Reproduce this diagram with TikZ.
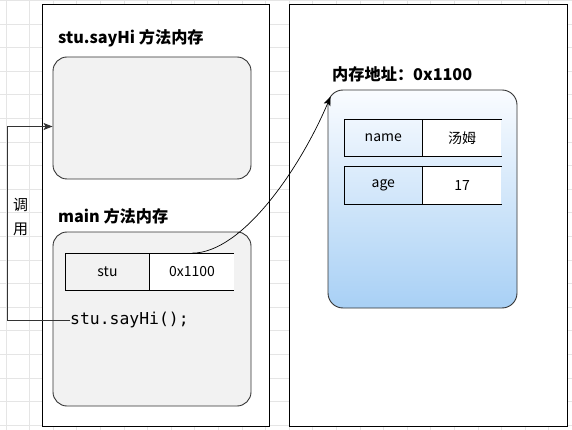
\documentclass[tikz,border=0pt]{standalone}
\usepackage{fontspec}
\setmainfont{Noto Sans CJK SC}
\setmonofont{DejaVu Sans Mono}
\usepackage{tikz}
\usetikzlibrary{arrows.meta, positioning, calc, shapes.geometric}
\definecolor{gridgray}{RGB}{229,229,229}
\definecolor{boxgray}{RGB}{242,242,242}
\definecolor{edgegray}{RGB}{51,51,51}
\definecolor{heaptop}{RGB}{250,252,255}
\definecolor{heapblue}{RGB}{168,208,245}

\begin{document}
\begin{tikzpicture}[
    x=1pt, y=-1pt,
    gridline/.style={gridgray, line width=0.8pt},
    panel/.style={draw=black, fill=white, line width=1pt, inner sep=0pt},
    framebox/.style={draw=edgegray, line width=0.9pt, rounded corners=14pt, inner sep=0pt},
    cell/.style={draw=black, line width=0.9pt, inner sep=0pt, font=\fontsize{14}{17}\selectfont},
    opencell/.style={fill=white, inner sep=0pt, font=\fontsize{14}{17}\selectfont,
        append after command={(\tikzlastnode.north west) edge[line width=0.9pt] (\tikzlastnode.north east)
            (\tikzlastnode.south west) edge[line width=0.9pt] (\tikzlastnode.south east)}},
    memtitle/.style={anchor=west, inner sep=0pt, font=\fontsize{16.2}{19}\selectfont\bfseries},
    callline/.style={draw=edgegray, line width=0.9pt, -{Stealth[length=9pt, width=7pt, inset=2pt]}},
    refline/.style={draw=black, line width=0.7pt, -{Stealth[length=9pt, width=7pt, inset=2pt]}}
]
    \useasboundingbox (0,0) rectangle (572,430);
    \foreach \k in {0,...,24} {
        \draw[gridline] ({6+23.6*\k},0) -- ({6+23.6*\k},430);
    }
    \foreach \k in {0,...,18} {
        \draw[gridline] (0,{0.4+23.6*\k}) -- (572,{0.4+23.6*\k});
    }

    % stack frames
    \node[panel, minimum width=227, minimum height=421] (stackpanel) at (155.5,215.5) {};
    \node[panel, minimum width=278, minimum height=421] (heappanel) at (428,215.5) {};

    \node[memtitle] (hititle) at (58,38) {stu.sayHi 方法内存};
    \node[framebox, fill=boxgray, minimum width=198, minimum height=122] (hibox) at (152,118) {};

    \node[memtitle] (maintitle) at (58,216) {main 方法内存};
    \node[framebox, fill=boxgray, minimum width=198, minimum height=174] (mainbox) at (152,319) {};
    \node[cell, fill=boxgray, minimum width=83.6, minimum height=36.7] (stuvar) at (107.5,271.7) {stu};
    \node[opencell, minimum width=84, minimum height=36.7, right=0pt of stuvar] (addr) {0x1100};
    \node[anchor=west, inner sep=0pt, font=\fontsize{16.4}{18}\ttfamily] (callsite) at (70,320) {stu.sayHi();};

    % heap object
    \node[memtitle] (heaptitle) at (332,74) {内存地址：0x1100};
    \node[framebox, rounded corners=15pt, top color=heaptop, bottom color=heapblue,
        minimum width=189, minimum height=218] (heapbox) at (422.5,199) {};
    \node[cell, minimum width=78, minimum height=37] (namekey) at (383.3,137.8) {name};
    \node[opencell, minimum width=78.4, minimum height=37, right=0pt of namekey] (nameval) {汤姆};
    \node[cell, minimum width=78, minimum height=37.7] (agekey) at (383.3,185.2) {age};
    \node[opencell, minimum width=78.4, minimum height=37.7, right=0pt of agekey] (ageval) {17};

    % connectors
    \coordinate (callturn) at (7.5,126.5);
    \draw[callline] (callsite.west) -| (callturn) -- (hibox.west |- callturn);
    \node[align=center, inner sep=0pt, font=\fontsize{15}{24}\selectfont] (calllabel) at (20.5,217) {调\\用};

    \coordinate (heapin) at ($(heapbox.north west)+(3,7)$);
    \draw[refline] (addr.north) .. controls +(50,0) and +(-31,73) .. (heapin);
\end{tikzpicture}
\end{document}
